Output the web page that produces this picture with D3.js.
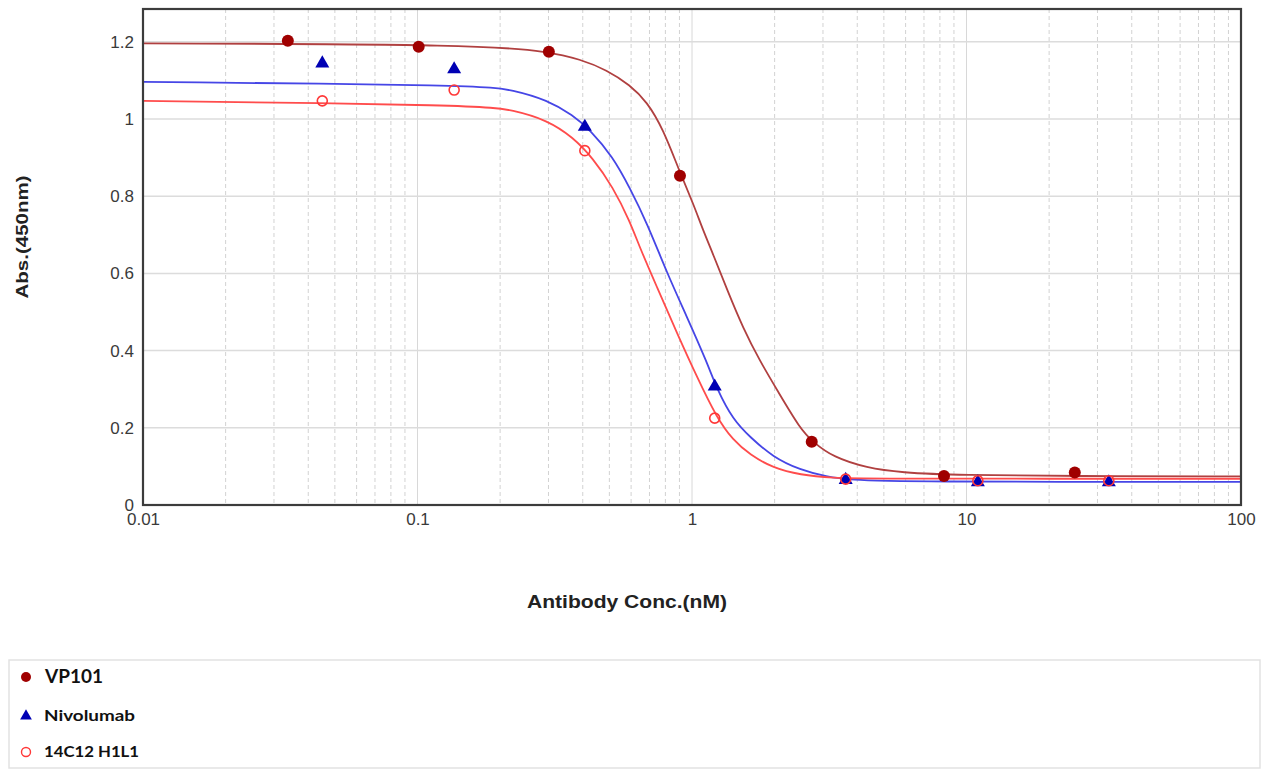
<!DOCTYPE html>
<html>
<head>
<meta charset="utf-8">
<script src="https://cdn.jsdelivr.net/npm/d3@7"></script>
<style>
  html, body { margin: 0; padding: 0; background: #fff; }
  svg { display: block; }
</style>
</head>
<body>
<svg id="chart" width="1264" height="769"></svg>
<script>
// ---- Data ----
const seriesNames = ["VP101", "Nivolumab", "14C12 H1L1"];

const vp101Conc = [0.0337, 0.101, 0.301, 0.904, 2.73, 8.28, 24.8];
const vp101Abs  = [1.203, 1.187, 1.174, 0.853, 0.164, 0.075, 0.084];

const nivoConc = [0.045, 0.136, 0.407, 1.21, 3.63, 11.0, 33.0];
const nivoAbs  = [1.144, 1.129, 0.980, 0.307, 0.065, 0.059, 0.059];

const h14Conc = [0.045, 0.136, 0.407, 1.21, 3.63, 11.0, 33.0];
const h14Abs  = [1.047, 1.075, 0.918, 0.225, 0.067, 0.063, 0.063];

// fitted curves
const vp101FitConc = [0.01, 0.173, 0.301, 0.391, 0.490, 0.594, 0.685, 0.784, 0.903, 1.009, 1.097, 1.193, 1.342, 1.535, 1.771, 2.042, 2.474, 2.760, 3.266, 4.343, 5.73, 9.47, 24.8, 100];
const vp101FitAbs  = [1.196, 1.193, 1.174, 1.155, 1.127, 1.088, 1.045, 0.975, 0.862, 0.782, 0.712, 0.650, 0.558, 0.458, 0.372, 0.298, 0.198, 0.163, 0.124, 0.096, 0.084, 0.077, 0.075, 0.074];

const nivoFitConc = [0.01, 0.169, 0.223, 0.297, 0.368, 0.425, 0.515, 0.594, 0.685, 0.811, 0.959, 1.135, 1.233, 1.411, 1.627, 1.973, 2.474, 3.10, 3.76, 5.73, 100];
const nivoFitAbs  = [1.096, 1.088, 1.075, 1.049, 1.010, 0.972, 0.902, 0.821, 0.731, 0.601, 0.487, 0.369, 0.300, 0.221, 0.176, 0.124, 0.091, 0.073, 0.065, 0.060, 0.060];

const h14FitConc = [0.01, 0.169, 0.223, 0.297, 0.368, 0.435, 0.515, 0.594, 0.647, 0.745, 0.881, 1.042, 1.233, 1.411, 1.627, 1.973, 2.474, 3.266, 4.343, 100];
const h14FitAbs  = [1.047, 1.036, 1.023, 0.997, 0.953, 0.899, 0.824, 0.735, 0.665, 0.565, 0.446, 0.332, 0.225, 0.168, 0.130, 0.096, 0.078, 0.070, 0.068, 0.068];

const xTickValues = [0.01, 0.1, 1, 10, 100];
const xTickLabels = ["0.01", "0.1", "1", "10", "100"];
const yTickValues = [0, 0.2, 0.4, 0.6, 0.8, 1, 1.2];
const yTickLabels = ["0", "0.2", "0.4", "0.6", "0.8", "1", "1.2"];

// ---- Layout ----
const svg = d3.select("#chart");
const plot = { left: 143, right: 1241, top: 9, bottom: 505 };

const x = d3.scaleLog().domain([0.01, 100]).range([plot.left, plot.right]);
const y = d3.scaleLinear().domain([0, 1.285]).range([plot.bottom, plot.top]);

const colors = { vp: "#a00000", vpLine: "#b04040", nivo: "#0000b4", nivoLine: "#4646e6", h14: "#ff3838", h14Line: "#ff4c4c" };
const tickFont = "Liberation Sans, Arial, sans-serif";

// grid: vertical (log minor dashed, decades solid)
const minor = [];
for (let d = -2; d < 2; d++) {
  for (let m = 2; m <= 9; m++) minor.push(m * Math.pow(10, d));
}
const grid = svg.append("g");
grid.selectAll("line.minor").data(minor).enter().append("line")
  .attr("x1", d => x(d)).attr("x2", d => x(d))
  .attr("y1", plot.top).attr("y2", plot.bottom)
  .attr("stroke", "#d2d2d2").attr("stroke-width", 1)
  .attr("stroke-dasharray", "4,3");
grid.selectAll("line.major").data([0.1, 1, 10]).enter().append("line")
  .attr("x1", d => x(d)).attr("x2", d => x(d))
  .attr("y1", plot.top).attr("y2", plot.bottom)
  .attr("stroke", "#d8d8d8").attr("stroke-width", 1);
grid.selectAll("line.h").data(yTickValues.filter(v => v > 0)).enter().append("line")
  .attr("x1", plot.left).attr("x2", plot.right)
  .attr("y1", d => y(d)).attr("y2", d => y(d))
  .attr("stroke", "#dcdcdc").attr("stroke-width", 1.5);

// curves
const line = d3.line().x(d => x(d[0])).y(d => y(d[1])).curve(d3.curveBasis);
function fit(cs, as) { return cs.map((c, i) => [c, as[i]]); }
const curves = [
  { data: fit(vp101FitConc, vp101FitAbs), color: colors.vpLine },
  { data: fit(nivoFitConc, nivoFitAbs), color: colors.nivoLine },
  { data: fit(h14FitConc, h14FitAbs), color: colors.h14Line }
];
svg.append("g").selectAll("path").data(curves).enter().append("path")
  .attr("d", d => line(d.data))
  .attr("fill", "none")
  .attr("stroke", d => d.color)
  .attr("stroke-width", 1.8);

// points
const tri = d3.symbol().type(d3.symbolTriangle).size(85);
svg.append("g").selectAll("path").data(nivoConc.map((c, i) => [c, nivoAbs[i]])).enter().append("path")
  .attr("d", tri)
  .attr("transform", d => `translate(${x(d[0])},${y(d[1])})`)
  .attr("fill", colors.nivo);
svg.append("g").selectAll("circle").data(h14Conc.map((c, i) => [c, h14Abs[i]])).enter().append("circle")
  .attr("cx", d => x(d[0])).attr("cy", d => y(d[1])).attr("r", 5)
  .attr("fill", "none").attr("stroke", colors.h14).attr("stroke-width", 1.6);
svg.append("g").selectAll("circle").data(vp101Conc.map((c, i) => [c, vp101Abs[i]])).enter().append("circle")
  .attr("cx", d => x(d[0])).attr("cy", d => y(d[1])).attr("r", 6)
  .attr("fill", colors.vp);

// frame
svg.append("rect")
  .attr("x", plot.left).attr("y", plot.top)
  .attr("width", plot.right - plot.left).attr("height", plot.bottom - plot.top)
  .attr("fill", "none").attr("stroke", "#3c3c3c").attr("stroke-width", 2.2);

// axes
const xAxis = d3.axisBottom(x).tickValues(xTickValues)
  .tickFormat((d, i) => xTickLabels[i]).tickSize(0).tickPadding(8);
const gx = svg.append("g").attr("transform", `translate(0,${plot.bottom})`).call(xAxis);
gx.select(".domain").remove();
gx.selectAll("text").attr("font-family", tickFont)
  .attr("font-size", 17).attr("fill", "#3a3a3a");

const yAxis = d3.axisLeft(y).tickValues(yTickValues)
  .tickFormat((d, i) => yTickLabels[i]).tickSize(0).tickPadding(9);
const gy = svg.append("g").attr("transform", `translate(${plot.left},0)`).call(yAxis);
gy.select(".domain").remove();
gy.selectAll("text").attr("font-family", tickFont)
  .attr("font-size", 17).attr("fill", "#3a3a3a");

// axis titles
svg.append("text")
  .attr("transform", "translate(28,237) rotate(-90)")
  .attr("text-anchor", "middle")
  .attr("font-family", tickFont)
  .attr("font-weight", "bold").attr("font-size", 17).attr("fill", "#222")
  .attr("textLength", 123).attr("lengthAdjust", "spacingAndGlyphs")
  .text("Abs.(450nm)");
svg.append("text")
  .attr("x", 627).attr("y", 608)
  .attr("text-anchor", "middle")
  .attr("font-family", tickFont)
  .attr("font-weight", "bold").attr("font-size", 18).attr("fill", "#222")
  .attr("textLength", 200).attr("lengthAdjust", "spacingAndGlyphs")
  .text("Antibody Conc.(nM)");

// legend
const lg = svg.append("g");
lg.append("rect").attr("x", 9).attr("y", 660).attr("width", 1251).attr("height", 108)
  .attr("fill", "#fff").attr("stroke", "#e2e2e2").attr("stroke-width", 1.5);
const legendItems = [
  { name: seriesNames[0], cy: 677, size: 18, len: 58, x: 45 },
  { name: seriesNames[1], cy: 716, size: 15, len: 91, x: 44 },
  { name: seriesNames[2], cy: 752, size: 15, len: 95, x: 44 }
];
lg.append("circle").attr("cx", 26).attr("cy", legendItems[0].cy).attr("r", 5).attr("fill", colors.vp);
lg.append("path").attr("d", d3.symbol().type(d3.symbolTriangle).size(60))
  .attr("transform", `translate(26,${legendItems[1].cy})`).attr("fill", colors.nivo);
lg.append("circle").attr("cx", 26).attr("cy", legendItems[2].cy).attr("r", 4.5)
  .attr("fill", "none").attr("stroke", colors.h14).attr("stroke-width", 1.4);
lg.selectAll("text").data(legendItems).enter().append("text")
  .attr("x", d => d.x).attr("y", d => d.cy)
  .attr("dy", "0.35em")
  .attr("font-family", "Lato, 'Open Sans', sans-serif")
  .attr("font-weight", "bold").attr("font-size", d => d.size).attr("fill", "#111")
  .attr("textLength", d => d.len).attr("lengthAdjust", "spacingAndGlyphs")
  .text(d => d.name);
</script>
</body>
</html>
